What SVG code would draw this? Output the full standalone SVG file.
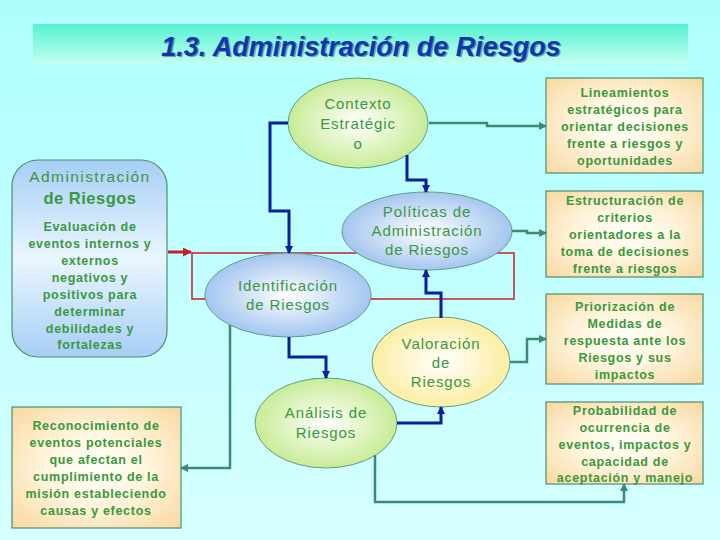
<svg xmlns="http://www.w3.org/2000/svg" width="720" height="540" viewBox="0 0 720 540">
<defs>
<linearGradient id="bg" x1="0" y1="0" x2="0" y2="1"><stop offset="0" stop-color="#AEFEFE"/><stop offset="1" stop-color="#D6FFFF"/></linearGradient>
<linearGradient id="tband" x1="0" y1="0" x2="0" y2="1"><stop offset="0" stop-color="#55F2D2"/><stop offset="1" stop-color="#C4FFF2"/></linearGradient>
<linearGradient id="lblue" x1="0" y1="0" x2="0" y2="1"><stop offset="0" stop-color="#A6CEF6"/><stop offset="0.5" stop-color="#EAF6FF"/><stop offset="1" stop-color="#A6CEF6"/></linearGradient>
<radialGradient id="peach" cx="0.5" cy="0.5" r="0.7"><stop offset="0" stop-color="#FFFFF8"/><stop offset="0.4" stop-color="#FFF6E0"/><stop offset="1" stop-color="#F8D8A0"/></radialGradient>
<radialGradient id="green" cx="0.5" cy="0.5" r="0.5"><stop offset="0" stop-color="#FFFFFF"/><stop offset="1" stop-color="#C8EC96"/></radialGradient>
<radialGradient id="blue" cx="0.5" cy="0.5" r="0.5"><stop offset="0" stop-color="#FFFFFF"/><stop offset="1" stop-color="#A4C6F0"/></radialGradient>
<radialGradient id="yellow" cx="0.5" cy="0.5" r="0.5"><stop offset="0" stop-color="#FFFFFF"/><stop offset="1" stop-color="#FCEEA2"/></radialGradient>
<marker id="ab" markerWidth="8" markerHeight="8" refX="7" refY="4" orient="auto" markerUnits="userSpaceOnUse"><path d="M0,0 L8,4 L0,8 z" fill="#0A1F99"/></marker>
<marker id="ag" markerWidth="8" markerHeight="8" refX="7" refY="4" orient="auto" markerUnits="userSpaceOnUse"><path d="M0,0 L8,4 L0,8 z" fill="#3A8A74"/></marker>
<marker id="ar" markerWidth="9" markerHeight="9" refX="8" refY="4.5" orient="auto" markerUnits="userSpaceOnUse"><path d="M0,0 L9,4.5 L0,9 z" fill="#C8202A"/></marker>
</defs>
<style>
.t{font-family:"Liberation Sans",Arial,sans-serif;fill:#3A983E;text-anchor:middle}
.b{font-size:12.5px;font-weight:bold;letter-spacing:0.7px}
.e{font-size:15px;letter-spacing:0.9px}
.box{stroke:#4E8E6E;stroke-width:1.2}
.ell{stroke:#5E9E86;stroke-width:1}
.cb{fill:none;stroke:#0A1F99;stroke-width:3;marker-end:url(#ab)}
.cg{fill:none;stroke:#3A8A74;stroke-width:2.5;marker-end:url(#ag)}
</style>
<rect width="720" height="540" fill="url(#bg)"/>
<g id="title">
<rect x="33" y="24" width="655" height="41" fill="url(#tband)"/>
<text x="362.5" y="57" font-family="Liberation Sans,Arial,sans-serif" font-size="27" font-weight="bold" font-style="italic" text-anchor="middle" fill="#0A1440" opacity="0.4">1.3. Administración de Riesgos</text>
<text x="361" y="55.5" font-family="Liberation Sans,Arial,sans-serif" font-size="27" font-weight="bold" font-style="italic" text-anchor="middle" fill="#1433B0">1.3. Administración de Riesgos</text>
</g>
<g id="red-loop">
<path d="M192,253 H514 V299 H192 Z" fill="none" stroke="#C8202A" stroke-width="1.5"/>
<path d="M168,252 H191" fill="none" stroke="#C8202A" stroke-width="3" marker-end="url(#ar)"/>
</g>
<g id="node-admin">
<rect x="12" y="160" width="155" height="197" rx="26" fill="url(#lblue)" class="box"/>
<text class="t" x="90" y="182" font-size="15.5" letter-spacing="1.4">Administración</text>
<text class="t" x="90" y="204" font-size="16.5" font-weight="bold" letter-spacing="0.5">de Riesgos</text>
<text class="t b" x="90" y="231">Evaluación de</text>
<text class="t b" x="90" y="248">eventos internos y</text>
<text class="t b" x="90" y="265">externos</text>
<text class="t b" x="90" y="282">negativos y</text>
<text class="t b" x="90" y="299">positivos para</text>
<text class="t b" x="90" y="316">determinar</text>
<text class="t b" x="90" y="333">debilidades y</text>
<text class="t b" x="90" y="349">fortalezas</text>
</g>
<g id="node-reconocimiento">
<rect x="12" y="407" width="169" height="121" fill="url(#peach)" class="box"/>
<text class="t b" x="96" y="430">Reconocimiento de</text>
<text class="t b" x="96" y="447">eventos potenciales</text>
<text class="t b" x="96" y="464">que afectan el</text>
<text class="t b" x="96" y="481">cumplimiento de la</text>
<text class="t b" x="96" y="498">misión estableciendo</text>
<text class="t b" x="96" y="515">causas y efectos</text>
</g>
<g id="node-contexto">
<ellipse cx="358" cy="123" rx="70" ry="45" fill="url(#green)" class="ell"/>
<text class="t e" x="358" y="109">Contexto</text>
<text class="t e" x="358" y="129">Estratégic</text>
<text class="t e" x="358" y="149">o</text>
</g>
<g id="node-politicas">
<ellipse cx="427" cy="231" rx="85" ry="39" fill="url(#blue)" class="ell"/>
<text class="t e" x="427" y="217">Políticas de</text>
<text class="t e" x="427" y="236">Administración</text>
<text class="t e" x="427" y="255">de Riesgos</text>
</g>
<g id="node-identificacion">
<ellipse cx="288" cy="295" rx="83" ry="42" fill="url(#blue)" class="ell"/>
<text class="t e" x="288" y="291">Identificación</text>
<text class="t e" x="288" y="310">de Riesgos</text>
</g>
<g id="node-valoracion">
<ellipse cx="441" cy="362" rx="69" ry="45" fill="url(#yellow)" class="ell"/>
<text class="t e" x="441" y="349">Valoración</text>
<text class="t e" x="441" y="368">de</text>
<text class="t e" x="441" y="387">Riesgos</text>
</g>
<g id="node-analisis">
<ellipse cx="326" cy="423" rx="71" ry="45" fill="url(#green)" class="ell"/>
<text class="t e" x="326" y="418">Análisis de</text>
<text class="t e" x="326" y="438">Riesgos</text>
</g>
<g id="node-lineamientos">
<rect x="546" y="78" width="157" height="95" fill="url(#peach)" class="box"/>
<text class="t b" x="625" y="97">Lineamientos</text>
<text class="t b" x="625" y="114">estratégicos para</text>
<text class="t b" x="625" y="131">orientar decisiones</text>
<text class="t b" x="625" y="148">frente a riesgos y</text>
<text class="t b" x="625" y="165">oportunidades</text>
</g>
<g id="node-estructuracion">
<rect x="546" y="191" width="157" height="86" fill="url(#peach)" class="box"/>
<text class="t b" x="625" y="205">Estructuración de</text>
<text class="t b" x="625" y="222">criterios</text>
<text class="t b" x="625" y="239">orientadores a  la</text>
<text class="t b" x="625" y="256">toma de decisiones</text>
<text class="t b" x="625" y="273">frente a riesgos</text>
</g>
<g id="node-priorizacion">
<rect x="546" y="294" width="157" height="90" fill="url(#peach)" class="box"/>
<text class="t b" x="625" y="311">Priorización de</text>
<text class="t b" x="625" y="328">Medidas de</text>
<text class="t b" x="625" y="345">respuesta ante los</text>
<text class="t b" x="625" y="362">Riesgos y sus</text>
<text class="t b" x="625" y="379">impactos</text>
</g>
<g id="node-probabilidad">
<rect x="546" y="402" width="157" height="82" fill="url(#peach)" class="box"/>
<text class="t b" x="625" y="415">Probabilidad de</text>
<text class="t b" x="625" y="432">ocurrencia de</text>
<text class="t b" x="625" y="449">eventos, impactos y</text>
<text class="t b" x="625" y="466">capacidad de</text>
<text class="t b" x="625" y="482">aceptación y manejo</text>
</g>
<g id="connectors">
<path class="cb" d="M288,123 H270 V211 H289 V253"/>
<path class="cb" d="M407,155 V180 H426 V192"/>
<path class="cb" d="M441,318 V293 H426 V270"/>
<path class="cb" d="M289,337 V357 H326 V378"/>
<path class="cb" d="M397,423 H441 V407"/>
<path class="cg" d="M429,123 H487 V126 H546"/>
<path class="cg" d="M512,231 H527 V233 H546"/>
<path class="cg" d="M510,362 H527 V339 H546"/>
<path class="cg" d="M375,455 V502 H624 V484"/>
<path class="cg" d="M230,325 V468 H181"/>
</g>
</svg>
